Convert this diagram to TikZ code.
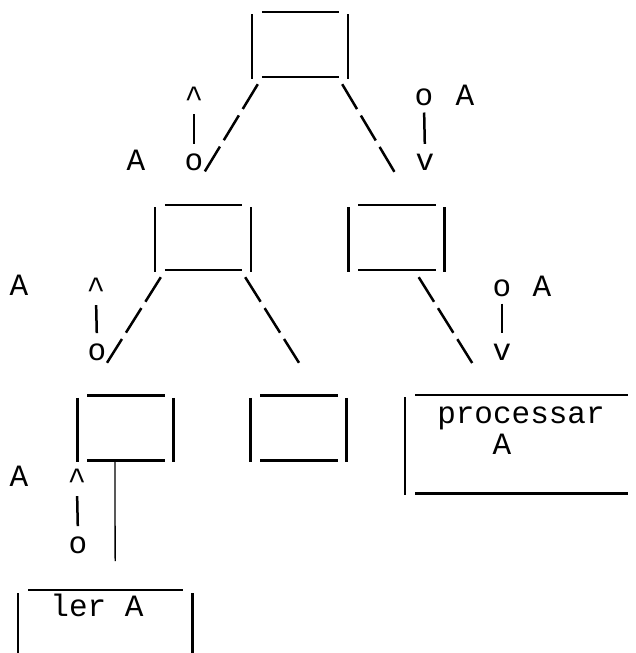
\documentclass[tikz,border=0pt]{standalone}
\usepackage{fontspec}
\setmonofont{Liberation Mono}
\usepackage{tikz}
\usetikzlibrary{positioning}

\begin{document}
\begin{tikzpicture}[
    x=1pt, y=-1pt,
    modulo/.style={minimum width=96pt, minimum height=64pt, inner sep=0pt},
    quadro/.style={anchor=north west, inner sep=0pt},
    traco/.style={line width=2.5pt},
    fio/.style={line width=1.3pt},
    ligacao/.style={line width=2.5pt, dash pattern=on 29pt off 7.5pt},
    rotulo/.style={font=\ttfamily\fontsize{31pt}{31pt}\selectfont, anchor=base, inner sep=0pt}
]
\useasboundingbox (0,0) rectangle (635,653);

% modules of the tree
\node[modulo] (prog) at (300,46.5) {};
\node[modulo] (ramoE) at (203,239.5) {};
\node[modulo] (ramoD) at (396.5,239.5) {};
\node[modulo] (folhaE) at (125.5,430) {};
\node[modulo] (folhaM) at (298.5,430) {};
\node[quadro, minimum width=223pt, minimum height=98pt] (processar) at (405,397) {};
\node[quadro, minimum width=174pt, minimum height=61pt] (ler) at (18,592) {};

\foreach \m in {prog,ramoE,ramoD,folhaE,folhaM} {
    \draw[traco] (\m.north west) -- (\m.south west);
    \draw[traco] (\m.north east) -- (\m.south east);
    \draw[traco] ([shift={(10,-2.5)}]\m.north west) -- ([shift={(-9,-2.5)}]\m.north east);
    \draw[traco] ([shift={(10,-1.5)}]\m.south west) -- ([shift={(-9,-1.5)}]\m.south east);
}

% leaf boxes, open on one side
\draw[traco] (processar.north west) -- (processar.south west);
\draw[traco] ([shift={(10,-2)}]processar.north west) -- ([yshift=2pt]processar.north east);
\draw[traco] ([shift={(10,-2)}]processar.south west) -- ([yshift=2pt]processar.south east);
\draw[traco] ([yshift=-1pt]ler.north west) -- (ler.south west);
\draw[traco] ([yshift=-1pt]ler.north east) -- (ler.south east);
\draw[traco] ([shift={(10,-2)}]ler.north west) -- ([shift={(-9,-2)}]ler.north east);

\node[rotulo] (txtProc) at (521,423) {processar};
\node[rotulo] (txtProcA) at (502,454) {A};
\node[rotulo] (txtLer) at (97,616) {ler A};

% links between levels
\draw[ligacao] ([shift={(6,5.5)}]prog.south west) -- ([shift={(1,-34.5)}]ramoE.north);
\draw[ligacao] ([shift={(-6,5.5)}]prog.south east) -- ([shift={(-1.5,-34.5)}]ramoD.north);
\draw[ligacao] ([shift={(6,5.5)}]ramoE.south west) -- ([shift={(-18.5,-35)}]folhaE.north);
\draw[ligacao] ([shift={(-6,5.5)}]ramoE.south east) -- ([shift={(0.5,-35)}]folhaM.north);
\draw[ligacao] ([shift={(-26,5.5)}]ramoD.south east) -- ([shift={(-44.5,-34)}]processar.north);
\draw[fio, shorten >=31pt] ([xshift=-10.5pt]folhaE.south) -- ([xshift=10pt]ler.north);

% data flags
\node[rotulo] (a1) at (136,170.5) {A};
\node[rotulo] (up1) at (194,107) {\^{}};
\node[rotulo] (o1) at (194,170.5) {o};
\node[rotulo] (o2) at (424,105) {o};
\node[rotulo] (a2) at (465,105) {A};
\node[rotulo] (dn2) at (425,170.5) {v};
\node[rotulo] (a3) at (19,295.5) {A};
\node[rotulo] (up3) at (96,298) {\^{}};
\node[rotulo] (o3) at (97,360) {o};
\node[rotulo] (o4) at (502,296) {o};
\node[rotulo] (a4) at (542,296) {A};
\node[rotulo] (dn4) at (502,360) {v};
\node[rotulo] (a5) at (19,486.5) {A};
\node[rotulo] (up5) at (77,489) {\^{}};
\node[rotulo] (o5) at (78,553) {o};

\draw[traco, shorten <=7pt, shorten >=10pt] (up1.south) -- (o1.north);
\draw[traco, shorten <=7pt, shorten >=10pt] (o2.south) -- (dn2.north);
\draw[traco, shorten <=7pt, shorten >=10pt] (up3.south) -- (o3.north);
\draw[traco, shorten <=7pt, shorten >=10pt] (o4.south) -- (dn4.north);
\draw[traco, shorten <=7pt, shorten >=10pt] (up5.south) -- (o5.north);

\end{tikzpicture}
\end{document}
